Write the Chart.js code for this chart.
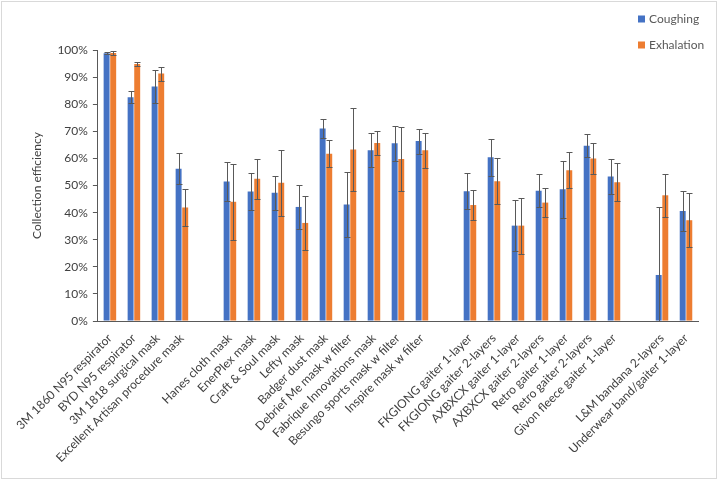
<!DOCTYPE html>
<html>
<head>
<meta charset="utf-8">
<script src="https://cdn.jsdelivr.net/npm/chart.js@4.4.1/dist/chart.umd.min.js"></script>
<style>
  html, body { margin: 0; padding: 0; background: #fff; }
  #wrap { position: relative; width: 720px; height: 481px; }
  #frame { position: absolute; left: 1px; top: 1px; width: 714px; height: 476px; border: 1px solid #d9d9d9; pointer-events: none; }
</style>
</head>
<body>
<div id="wrap">
  <canvas id="chart"></canvas>
  <div id="frame"></div>
</div>
<script>
// Categories (empty strings are the gaps between groups)
const categories = [
    '3M 1860 N95 respirator', 'BYD N95 respirator', '3M 1818 surgical mask', 'Excellent Artisan procedure mask', '',
    'Hanes cloth mask', 'EnerPlex mask', 'Craft & Soul mask', 'Lefty mask', 'Badger dust mask',
    'Debrief Me mask w filter', 'Fabrique Innovations mask', 'Besungo sports mask w filter', 'Inspire mask w filter', '',
    'FKGIONG gaiter 1-layer', 'FKGIONG gaiter 2-layers', 'AXBXCX gaiter 1-layer', 'AXBXCX gaiter 2-layers',
    'Retro gaiter 1-layer', 'Retro gaiter 2-layers', 'Givon fleece gaiter 1-layer', '',
    'L&M bandana 2-layers', 'Underwear band/gaiter 1-layer'
];

// Collection efficiency (%)
const coughing = [98.8, 82.6, 86.5, 56.2, null, 51.5, 47.8, 47.3, 42.1, 71.0, 43.0, 63.0, 65.6, 66.4, null,
    47.9, 60.4, 35.2, 48.1, 48.6, 64.7, 53.3, null, 17.0, 40.6];
const coughingErr = [0.3, 2.1, 6.2, 5.8, null, 7.1, 6.7, 6.3, 8.1, 3.6, 12.0, 6.2, 6.5, 4.6, null,
    6.7, 6.8, 9.4, 6.2, 10.6, 4.2, 6.4, null, 25.0, 7.5];

const exhalation = [98.9, 94.8, 91.3, 41.9, null, 44.0, 52.5, 51.0, 36.2, 61.7, 63.3, 65.7, 59.8, 63.0, null,
    42.8, 51.6, 35.2, 43.7, 55.6, 60.0, 51.2, null, 46.4, 37.2];
const exhalationErr = [0.6, 0.6, 2.6, 6.7, null, 14.0, 7.4, 12.2, 9.9, 5.0, 15.3, 4.3, 11.9, 6.4, null,
    5.5, 8.6, 10.3, 5.4, 6.6, 5.6, 7.0, null, 8.0, 10.0];

const errors = [coughingErr, exhalationErr];
const FONT = 'Lato, "Open Sans", sans-serif';

// draws +/- error bars from the scale
const errorBars = {
    id: 'errorBars',
    afterDatasetsDraw(chart) {
        const ctx = chart.ctx;
        const yScale = chart.scales.y;
        ctx.save();
        ctx.strokeStyle = '#595959';
        ctx.lineWidth = 1;
        chart.data.datasets.forEach((ds, di) => {
            const meta = chart.getDatasetMeta(di);
            meta.data.forEach((bar, i) => {
                const v = ds.data[i];
                const e = errors[di][i];
                if (v == null || e == null) return;
                const x = Math.round(bar.x) + 0.5;
                const top = Math.round(yScale.getPixelForValue(Math.min(v + e, 100))) + 0.5;
                const bot = Math.round(yScale.getPixelForValue(Math.max(v - e, 0))) + 0.5;
                ctx.beginPath();
                ctx.moveTo(x, top); ctx.lineTo(x, bot);
                ctx.moveTo(x - 3, top); ctx.lineTo(x + 3, top);
                if (v - e > 0) { ctx.moveTo(x - 3, bot); ctx.lineTo(x + 3, bot); }
                ctx.stroke();
            });
        });
        ctx.restore();
    }
};

// legend in the top right corner, stacked
const cornerLegend = {
    id: 'cornerLegend',
    afterDraw(chart) {
        const ctx = chart.ctx;
        ctx.save();
        ctx.font = '12px ' + FONT;
        ctx.textBaseline = 'middle';
        chart.data.datasets.forEach((ds, i) => {
            const y = 19 + i * 26;
            ctx.fillStyle = ds.backgroundColor;
            ctx.fillRect(638, y - 3.5, 7, 7);
            ctx.fillStyle = '#595959';
            ctx.fillText(ds.label, 649, y);
        });
        ctx.restore();
    }
};

new Chart(document.getElementById('chart'), {
    type: 'bar',
    data: {
        labels: categories,
        datasets: [{
            label: 'Coughing',
            data: coughing,
            backgroundColor: '#4472C4',
            categoryPercentage: 0.55,
            barPercentage: 0.9
        }, {
            label: 'Exhalation',
            data: exhalation,
            backgroundColor: '#ED7D31',
            categoryPercentage: 0.55,
            barPercentage: 0.9
        }]
    },
    options: {
        responsive: true,
        maintainAspectRatio: false,
        animation: false,
        layout: { padding: { top: 50, right: 22, bottom: 14, left: 26 } },
        plugins: {
            legend: { display: false },
            tooltip: { enabled: false }
        },
        scales: {
            x: {
                grid: { display: false },
                border: { display: true, color: '#595959', width: 1 },
                ticks: {
                    autoSkip: false,
                    maxRotation: 45,
                    minRotation: 45,
                    color: '#404040',
                    font: { family: FONT, size: 12 },
                    padding: 2
                }
            },
            y: {
                min: 0,
                max: 100,
                grid: { drawOnChartArea: false, drawTicks: true, tickLength: 5, color: '#595959' },
                border: { display: true, color: '#595959', width: 1 },
                ticks: {
                    stepSize: 10,
                    color: '#404040',
                    font: { family: FONT, size: 12 },
                    padding: 5,
                    callback: v => v + '%'
                },
                title: {
                    display: true,
                    text: 'Collection efficiency',
                    color: '#404040',
                    font: { family: FONT, size: 12 },
                    padding: { bottom: 8 }
                }
            }
        }
    },
    plugins: [errorBars, cornerLegend]
});
</script>
</body>
</html>
